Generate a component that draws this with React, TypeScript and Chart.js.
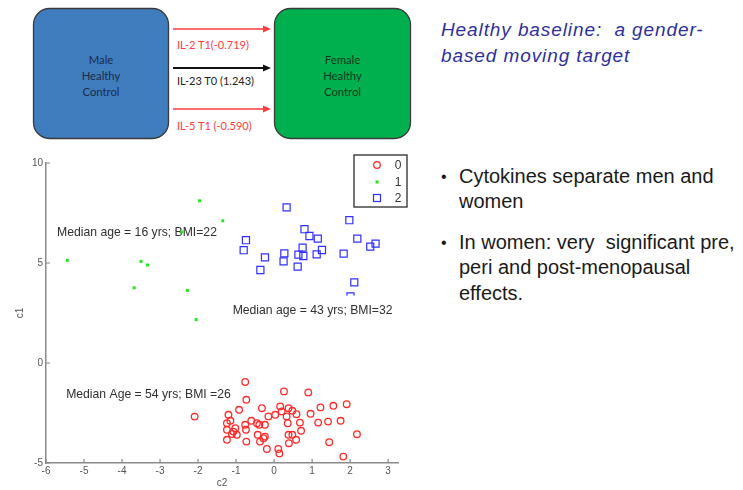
import React, { useEffect, useRef } from "react";
import { Chart, registerables } from "chart.js";

Chart.register(...registerables);

// ---------- data ----------
const seriesNames = ["0", "1", "2"];

const group0X = [-0.76, -0.73, -1.2, -0.92, -0.32, 0.26, 0.16, 0.38, 0.48, -1.24, -1.24, -1.24, -1.07, -1.02, -0.98, -0.76, -0.74, -0.73, -0.6, -0.45, -0.39, -0.43, -0.24, -0.37, -0.24, -0.28, -0.19, -0.15, 0.03, 0.11, 0.14, 0.2, 0.33, 0.36, 0.38, 0.39, 0.48, 0.9, 1.22, 1.56, 1.91, 0.96, 0.59, 1.16, 1.42, 1.75, 0.68, 0.71, 0.58, 1.45, 2.18, 1.82, -2.09, -1.15, -1.11];
const group0Y = [-0.95, -1.84, -2.59, -2.34, -2.26, -1.42, -2.17, -2.26, -2.39, -3.01, -3.34, -3.84, -3.43, -3.26, -3.59, -3.09, -3.34, -3.93, -2.89, -3.01, -3.09, -3.59, -3.09, -3.93, -3.68, -3.76, -4.3, -2.67, -2.59, -4.3, -4.52, -2.42, -2.67, -3.01, -3.59, -4.01, -3.59, -1.47, -2.22, -2.14, -2.06, -2.54, -2.56, -2.98, -2.93, -2.89, -2.98, -3.39, -3.84, -3.96, -3.56, -4.68, -2.68, -2.89, -3.55];

const group1X = [-5.44, -1.96, -1.35, -2.42, -3.5, -3.33, -3.68, -2.28, -2.05];
const group1Y = [5.13, 8.11, 7.11, 6.55, 5.08, 4.9, 3.76, 3.63, 2.17];

const group2X = [0.33, 1.98, 0.8, 0.93, 1.15, 2.19, -0.74, 2.67, 2.53, -0.8, 0.75, 1.26, 0.27, 0.64, 0.77, 1.12, 1.83, -0.24, 0.25, 0.62, -0.36, 2.11, 2.01];
const group2Y = [7.78, 7.14, 6.69, 6.35, 6.22, 6.22, 6.14, 5.97, 5.82, 5.64, 5.77, 5.65, 5.48, 5.42, 5.35, 5.43, 5.47, 5.28, 5.08, 4.82, 4.65, 4.03, 3.33];

const xAxisMin = -6;
const xAxisMax = 3.26;
const yAxisMin = -5;
const yAxisMax = 10;
const xTickStep = 1;
const yTickStep = 5;
const xTitle = "c2";
const yTitle = "c1";

const annotationTexts = ["Median age = 16 yrs; BMI=22", "Median age = 43 yrs; BMI=32", "Median Age = 54 yrs; BMI =26"];
const annotationX = [-5.71, -1.09, -5.47];
const annotationY = [6.54, 2.62, -1.59];

const leftBoxLabel = ["Male", "Healthy", "Control"];
const rightBoxLabel = ["Female", "Healthy", "Control"];
const arrowLabels = ["IL-2 T1(-0.719)", "IL-23 T0 (1.243)", "IL-5 T1 (-0.590)"];
const arrowColors = ["#ff3b3b", "#111111", "#ff3b3b"];

const titleLines = ["Healthy baseline:  a gender-", "based moving target"];
const bullet1Lines = ["Cytokines separate men and", "women"];
const bullet2Lines = ["In women: very  significant pre,", "peri and post-menopausal", "effects."];

// ---------- styles ----------
const RED = "#ff2a2a";
const GREEN = "#1fe81f";
const BLUE = "#3030ff";
const FONT = "'Liberation Sans', Arial, sans-serif";
const ANNOT_FONT = `12.2px ${FONT}`;

const toPoints = (xs: number[], ys: number[]) => xs.map((x, i) => ({ x, y: ys[i] }));

const extrasPlugin = {
  id: "slideExtras",
  beforeDatasetsDraw(chart: any) {
    const { ctx } = chart;
    const xs = chart.scales.x;
    const ys = chart.scales.y;
    ctx.save();
    ctx.font = ANNOT_FONT;
    ctx.fillStyle = "#303030";
    ctx.textAlign = "left";
    ctx.textBaseline = "middle";
    [0, 2].forEach((i) => {
      ctx.fillText(annotationTexts[i], xs.getPixelForValue(annotationX[i]), ys.getPixelForValue(annotationY[i]));
    });
    ctx.restore();
  },
  afterDatasetsDraw(chart: any) {
    const { ctx } = chart;
    const xs = chart.scales.x;
    const ys = chart.scales.y;
    ctx.save();
    ctx.font = ANNOT_FONT;
    const i = 1;
    const px = xs.getPixelForValue(annotationX[i]);
    const py = ys.getPixelForValue(annotationY[i]);
    const w = ctx.measureText(annotationTexts[i]).width;
    ctx.fillStyle = "#ffffff";
    ctx.fillRect(px - 2, py - 15, w + 4, 22);
    ctx.fillStyle = "#303030";
    ctx.textAlign = "left";
    ctx.textBaseline = "middle";
    ctx.fillText(annotationTexts[i], px, py);
    ctx.restore();
  },
  afterDraw(chart: any) {
    const { ctx, chartArea } = chart;
    const xs = chart.scales.x;
    const ys = chart.scales.y;
    ctx.save();
    // inward ticks
    ctx.strokeStyle = "#888888";
    ctx.lineWidth = 1.2;
    ctx.beginPath();
    xs.ticks.forEach((t: any) => {
      const p = xs.getPixelForValue(t.value);
      ctx.moveTo(p, chartArea.bottom);
      ctx.lineTo(p, chartArea.bottom - 4);
    });
    ys.ticks.forEach((t: any) => {
      const p = ys.getPixelForValue(t.value);
      ctx.moveTo(chartArea.left, p);
      ctx.lineTo(chartArea.left + 4, p);
    });
    ctx.stroke();

    // legend
    const bx = chartArea.right - 44;
    const by = chartArea.top - 8;
    const bw = 53;
    const bh = 52;
    ctx.fillStyle = "#ffffff";
    ctx.fillRect(bx, by, bw, bh);
    ctx.strokeStyle = "#3a3a3a";
    ctx.lineWidth = 1.4;
    ctx.strokeRect(bx, by, bw, bh);
    const mx = chartArea.right - 21;
    const rows = [chartArea.top + 2, chartArea.top + 19, chartArea.top + 35];
    ctx.strokeStyle = RED;
    ctx.lineWidth = 1.3;
    ctx.beginPath();
    ctx.arc(mx, rows[0], 3.3, 0, Math.PI * 2);
    ctx.stroke();
    ctx.fillStyle = GREEN;
    ctx.fillRect(mx - 1.5, rows[1] - 1.5, 3, 3);
    ctx.strokeStyle = BLUE;
    ctx.lineWidth = 1.2;
    ctx.strokeRect(mx - 3.5, rows[2] - 3.5, 7, 7);
    ctx.font = `12px ${FONT}`;
    ctx.fillStyle = "#333333";
    ctx.textAlign = "center";
    ctx.textBaseline = "middle";
    seriesNames.forEach((n, k) => ctx.fillText(n, chartArea.right, rows[k] + 1));
    ctx.restore();
  },
};

function ScatterChart() {
  const ref = useRef<HTMLCanvasElement | null>(null);
  useEffect(() => {
    if (!ref.current) return;
    const chart = new Chart(ref.current, {
      type: "scatter",
      data: {
        datasets: [
          {
            label: seriesNames[2],
            data: toPoints(group2X, group2Y),
            pointStyle: "rect",
            pointRadius: 5,
            borderColor: BLUE,
            backgroundColor: "rgba(0,0,0,0)",
            borderWidth: 1.2,
          },
          {
            label: seriesNames[1],
            data: toPoints(group1X, group1Y),
            pointStyle: "rect",
            pointRadius: 2.1,
            borderWidth: 0,
            backgroundColor: GREEN,
            borderColor: GREEN,
          },
          {
            label: seriesNames[0],
            data: toPoints(group0X, group0Y),
            pointStyle: "circle",
            pointRadius: 3.3,
            borderColor: RED,
            backgroundColor: "rgba(0,0,0,0)",
            borderWidth: 1.3,
          },
        ],
      },
      options: {
        animation: false,
        responsive: false,
        events: [],
        layout: { padding: { top: 13, right: 22, left: 0, bottom: 0 } },
        plugins: { legend: { display: false }, tooltip: { enabled: false } },
        scales: {
          x: {
            type: "linear",
            min: xAxisMin,
            max: xAxisMax,
            grid: { display: false, drawTicks: false, tickLength: 0 },
            border: { display: true, color: "#8a8a8a", width: 1.5 },
            ticks: {
              stepSize: xTickStep,
              includeBounds: false,
              padding: 2,
              color: "#555555",
              font: { family: FONT, size: 10 },
              maxRotation: 0,
            },
            title: { display: true, text: xTitle, color: "#555555", font: { family: FONT, size: 10 }, padding: { top: 0, bottom: 1 } },
            afterFit: (s: any) => {
              s.height = 27;
            },
          },
          y: {
            type: "linear",
            min: yAxisMin,
            max: yAxisMax,
            grid: { display: false, drawTicks: false, tickLength: 0 },
            border: { display: true, color: "#8a8a8a", width: 1.5 },
            ticks: {
              stepSize: yTickStep,
              padding: 3,
              color: "#555555",
              font: { family: FONT, size: 10 },
            },
            title: { display: true, text: yTitle, color: "#555555", font: { family: FONT, size: 10 }, padding: { top: 14, bottom: 0 } },
            afterFit: (s: any) => {
              s.width = 46;
            },
          },
        },
      },
      plugins: [extrasPlugin],
    } as any);
    return () => chart.destroy();
  }, []);
  return <canvas ref={ref} width={420} height={340} style={{ position: "absolute", left: 0, top: 150, width: 420, height: 340 }} />;
}

function Diagram() {
  const arrowY = [29, 68, 109];
  const labelY = [44, 80, 125];
  const boxTextY = [59, 75, 91];
  const dfont = "Lato, 'Open Sans', sans-serif";
  return (
    <svg width={420} height={150} style={{ position: "absolute", left: 0, top: 0 }}>
      <rect x={33.5} y={8.5} width={135} height={130} rx={16} ry={16} fill="#3f7dbf" stroke="#3a3a3a" strokeWidth={1.3} />
      <rect x={274.5} y={8.5} width={136} height={130} rx={16} ry={16} fill="#00b04f" stroke="#3a3a3a" strokeWidth={1.3} />
      {leftBoxLabel.map((t, i) => (
        <text key={"l" + i} x={101} y={boxTextY[i]} textAnchor="middle" dominantBaseline="central" fontFamily={dfont} fontSize={11.3} fill="#1b2a48">
          {t}
        </text>
      ))}
      {rightBoxLabel.map((t, i) => (
        <text key={"r" + i} x={342.5} y={boxTextY[i]} textAnchor="middle" dominantBaseline="central" fontFamily={dfont} fontSize={11.3} fill="#0c3a1c">
          {t}
        </text>
      ))}
      {arrowLabels.map((t, i) => (
        <g key={"a" + i}>
          <line x1={173} y1={arrowY[i]} x2={265} y2={arrowY[i]} stroke={arrowColors[i]} strokeWidth={i === 1 ? 2 : 1.6} />
          <polygon points={`${271},${arrowY[i]} ${263},${arrowY[i] - 3.5} ${263},${arrowY[i] + 3.5}`} fill={arrowColors[i]} />
          <text x={177} y={labelY[i]} dominantBaseline="central" fontFamily={dfont} fontSize={11} fill={arrowColors[i] === "#111111" ? "#222222" : "#ff3b3b"}>
            {t}
          </text>
        </g>
      ))}
    </svg>
  );
}

export default function App() {
  const textFont = "'Liberation Sans', Arial, sans-serif";
  return (
    <div style={{ position: "fixed", left: 0, top: 0, width: 743, height: 490, background: "#ffffff", overflow: "hidden" }}>
      <Diagram />
      <ScatterChart />
      <div
        style={{
          position: "absolute",
          left: 441,
          top: 17,
          fontFamily: textFont,
          fontStyle: "italic",
          fontSize: 19,
          lineHeight: "26px",
          color: "#2f2f9c",
          whiteSpace: "pre",
          letterSpacing: 0.9,
        }}
      >
        {titleLines.join("\n")}
      </div>
      {[
        { lines: bullet1Lines, top: 163.5 },
        { lines: bullet2Lines, top: 229.5 },
      ].map((b, i) => (
        <div key={i} style={{ position: "absolute", left: 441, top: b.top, fontFamily: textFont, fontSize: 20, lineHeight: "25.5px", color: "#1a1a1a" }}>
          <span style={{ position: "absolute", left: 0, top: 0, fontSize: 16 }}>•</span>
          <div style={{ position: "absolute", left: 18, top: 0, whiteSpace: "pre" }}>{b.lines.join("\n")}</div>
        </div>
      ))}
    </div>
  );
}
